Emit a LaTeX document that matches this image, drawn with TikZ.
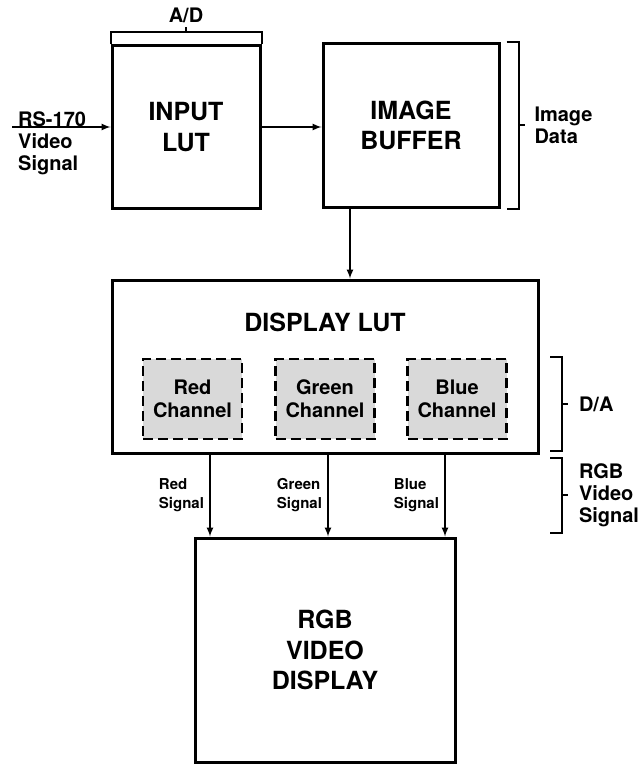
\documentclass[tikz,border=0pt]{standalone}
\usepackage{fontspec}
\setmainfont{TeX Gyre Heros}
\usepackage{tikz}
\usetikzlibrary{
  calc,%
  positioning
}
\tikzset{>=latex}
\tikzset{
  block/.style={draw, line width=3pt, inner sep=0pt, align=center,
    font=\fontsize{25}{30.5}\selectfont\bfseries},
  chanbox/.style={draw, line width=2.4pt, dash pattern=on 10pt off 5pt,
    fill=black!15, inner sep=0pt, align=center,
    minimum width=99pt, minimum height=80pt,
    font=\fontsize{20}{23}\selectfont\bfseries},
  sidetext/.style={align=left, inner sep=0pt,
    font=\fontsize{20}{22}\selectfont\bfseries},
  sigtext/.style={align=left, inner sep=0pt,
    font=\fontsize{15}{19}\selectfont\bfseries},
  wire/.style={->, line width=2pt},
  brace/.style={line width=2pt},
}

\begin{document}
\begin{tikzpicture}[x=1pt,y=-1pt]
  \useasboundingbox (0,0) rectangle (643,765);
  % main blocks
  \node[block, minimum width=148pt, minimum height=162pt] (inlut) at (186,127) {INPUT\\LUT};
  \node[block, minimum width=176pt, minimum height=163pt] (imgbuf) at (411,125.5) {IMAGE\\BUFFER};
  \node[block, minimum width=426pt, minimum height=173pt] (displut) at (325,366.5) {};
  \node[block, inner sep=0pt] (disptitle) at (325,322) [draw=none] {DISPLAY LUT};
  \node[block, minimum width=260pt, minimum height=224pt] (rgbdisp) at (325,650) {RGB\\VIDEO\\DISPLAY};

  % channels
  \node[chanbox] (redch) at (192.5,399) {Red\\Channel};
  \node[chanbox] (greench) at (325,399) {Green\\Channel};
  \node[chanbox] (bluech) at (457,399) {Blue\\Channel};

  % input
  \coordinate (rsin) at (12,127);
  \node[sidetext, anchor=north west] (rslbl) at (18,111) {RS-170\\Video\\Signal};
  \draw[wire] (rsin) -- (rsin -| inlut.west);
  \draw[wire] (inlut.east) -- (inlut.east -| imgbuf.west);

  \coordinate (bufout) at (350,0);
  \draw[wire] (imgbuf.south -| bufout) -- (displut.north -| bufout);

  \foreach \x/\nm/\txt in {210/red/Red, 328/green/Green, 445/blue/Blue} {
    \coordinate (\nm out) at (\x,0);
    \draw[wire] (displut.south -| \nm out) -- (rgbdisp.north -| \nm out)
      node[midway, left=5pt, sigtext] (\nm sig) {\txt\\Signal};
  }

  % brackets
  \node[sidetext] (adlbl) at (186,15) {A/D};
  \draw[brace] (inlut.north west) -- ++(0,-12) -| (inlut.north east);
  \draw[brace] (inlut.north) ++(0,-12) -- ++(0,-5);

  \draw[brace] ([xshift=6pt]imgbuf.north east) -| ([xshift=18pt]imgbuf.east)
    |- ([xshift=6pt]imgbuf.south east);
  \draw[brace] ([xshift=18pt]imgbuf.east) -- ++(6,0)
    node[right=9pt, sidetext] (datalbl) {Image\\Data};

  \draw[brace] (550,357) -- (562,357) -- (562,451) -- (550,451);
  \draw[brace] (562,404) -- ++(6,0) node[right=10pt, sidetext] (dalbl) {D/A};

  \draw[brace] (550,458) -- (562,458) -- (562,533) -- (550,533);
  \draw[brace] (562,495) -- ++(6,0) node[right=10pt, sidetext] (rgblbl) {RGB\\Video\\Signal};
\end{tikzpicture}
\end{document}
